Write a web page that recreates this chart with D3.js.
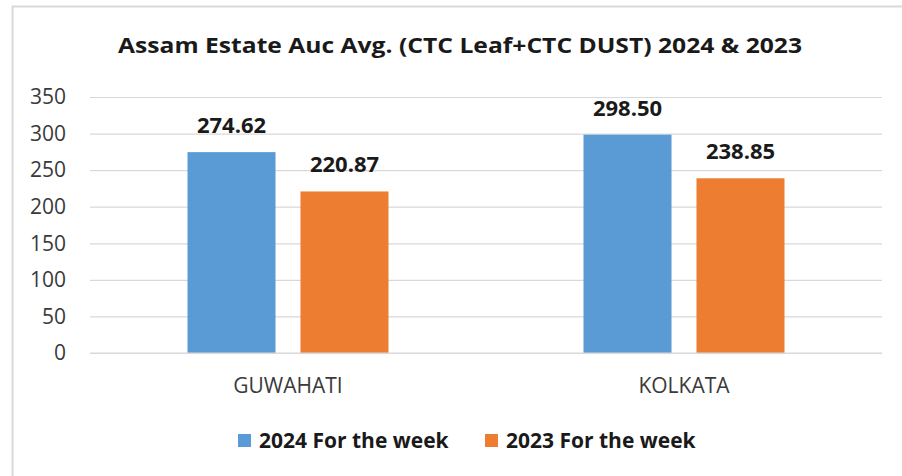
<!DOCTYPE html>
<html>
<head>
<meta charset="utf-8">
<script src="https://cdn.jsdelivr.net/npm/d3@7"></script>
<style>
  body { margin: 0; background: #fff; }
  text { font-family: "Open Sans", "Noto Sans", sans-serif; }
</style>
</head>
<body>
<div id="chart"></div>
<script>
// data
var cities = ["GUWAHATI", "KOLKATA"];
var seriesNames = ["2024 For the week", "2023 For the week"];
var values2024 = [274.62, 298.50];
var values2023 = [220.87, 238.85];
var yTicks = [0, 50, 100, 150, 200, 250, 300, 350];
var colors = ["#5b9bd5", "#ed7d31"];

var svgWidth = 902;
var svgHeight = 476;
var margin = { top: 97, right: 20, bottom: 123, left: 90 };
var width = 882 - margin.left;
var height = 353 - margin.top;

var svg = d3.select("#chart")
  .append("svg")
  .attr("width", svgWidth)
  .attr("height", svgHeight);

// chart frame
svg.append("rect")
  .attr("x", 12.5).attr("y", 6.5)
  .attr("width", 900).attr("height", 480)
  .attr("fill", "#fff")
  .attr("stroke", "#d9d9d9")
  .attr("stroke-width", 2);

svg.append("text")
  .attr("x", 460)
  .attr("y", 53)
  .attr("text-anchor", "middle")
  .attr("font-size", 22)
  .attr("font-weight", "bold")
  .attr("fill", "#1a1a1a")
  .attr("textLength", 684)
  .attr("lengthAdjust", "spacingAndGlyphs")
  .text("Assam Estate Auc Avg. (CTC Leaf+CTC DUST) 2024 & 2023");

var chartGroup = svg.append("g")
  .attr("transform", `translate(${margin.left}, ${margin.top})`);

var yScale = d3.scaleLinear().domain([0, 350]).range([height, 0]);
var x0 = d3.scaleBand().domain(cities).range([0, width]);
var x1 = d3.scaleBand().domain(seriesNames)
  .range([x0.bandwidth() / 2 - 100.5, x0.bandwidth() / 2 + 100.5])
  .paddingInner(0.221);

// gridlines
chartGroup.append("g")
  .call(d3.axisLeft(yScale).tickValues(yTicks).tickSize(-width).tickFormat(""))
  .call(g => g.select(".domain").remove())
  .call(g => g.selectAll("line").attr("stroke", "#d9d9d9").attr("stroke-width", 1.2));

// y labels
chartGroup.append("g")
  .call(d3.axisLeft(yScale).tickValues(yTicks).tickSize(0).tickPadding(24))
  .call(g => g.select(".domain").remove())
  .call(g => g.selectAll("text").attr("font-size", 21).attr("fill", "#3a3a3a")
    .style("font-family", "'Open Sans', sans-serif"));

var rows = cities.map((c, i) => ({ city: c, vals: [values2024[i], values2023[i]] }));

var groups = chartGroup.selectAll(".city")
  .data(rows)
  .enter()
  .append("g")
  .attr("transform", d => `translate(${x0(d.city)},0)`);

groups.selectAll("rect")
  .data(d => d.vals.map((v, j) => ({ name: seriesNames[j], v: v, j: j })))
  .enter()
  .append("rect")
  .attr("x", d => x1(d.name))
  .attr("y", d => yScale(d.v))
  .attr("width", x1.bandwidth())
  .attr("height", d => height - yScale(d.v))
  .attr("fill", d => colors[d.j]);

groups.selectAll(".lbl")
  .data(d => d.vals.map((v, j) => ({ name: seriesNames[j], v: v, j: j })))
  .enter()
  .append("text")
  .attr("x", d => x1(d.name) + x1.bandwidth() / 2)
  .attr("y", d => yScale(d.v) - 19)
  .attr("text-anchor", "middle")
  .attr("font-size", 22)
  .attr("font-weight", "bold")
  .attr("fill", "#1a1a1a")
  .text(d => d.v.toFixed(2));

// x axis line + category labels
chartGroup.append("line")
  .attr("x1", 0).attr("x2", width)
  .attr("y1", height).attr("y2", height)
  .attr("stroke", "#d9d9d9").attr("stroke-width", 1.2);

chartGroup.selectAll(".cat")
  .data(cities)
  .enter()
  .append("text")
  .attr("x", d => x0(d) + x0.bandwidth() / 2)
  .attr("y", height + 40)
  .attr("text-anchor", "middle")
  .attr("font-size", 21)
  .attr("fill", "#3a3a3a")
  .text(d => d);

// legend
var legendX = [238, 485];
var legend = svg.selectAll(".legend")
  .data(seriesNames)
  .enter()
  .append("g")
  .attr("transform", (d, i) => `translate(${legendX[i]}, 434)`);

legend.append("rect")
  .attr("width", 13).attr("height", 13)
  .attr("fill", (d, i) => colors[i]);

legend.append("text")
  .attr("x", 21)
  .attr("y", 14)
  .attr("font-size", 21)
  .attr("font-weight", "bold")
  .attr("fill", "#1a1a1a")
  .text(d => d);
</script>
</body>
</html>
